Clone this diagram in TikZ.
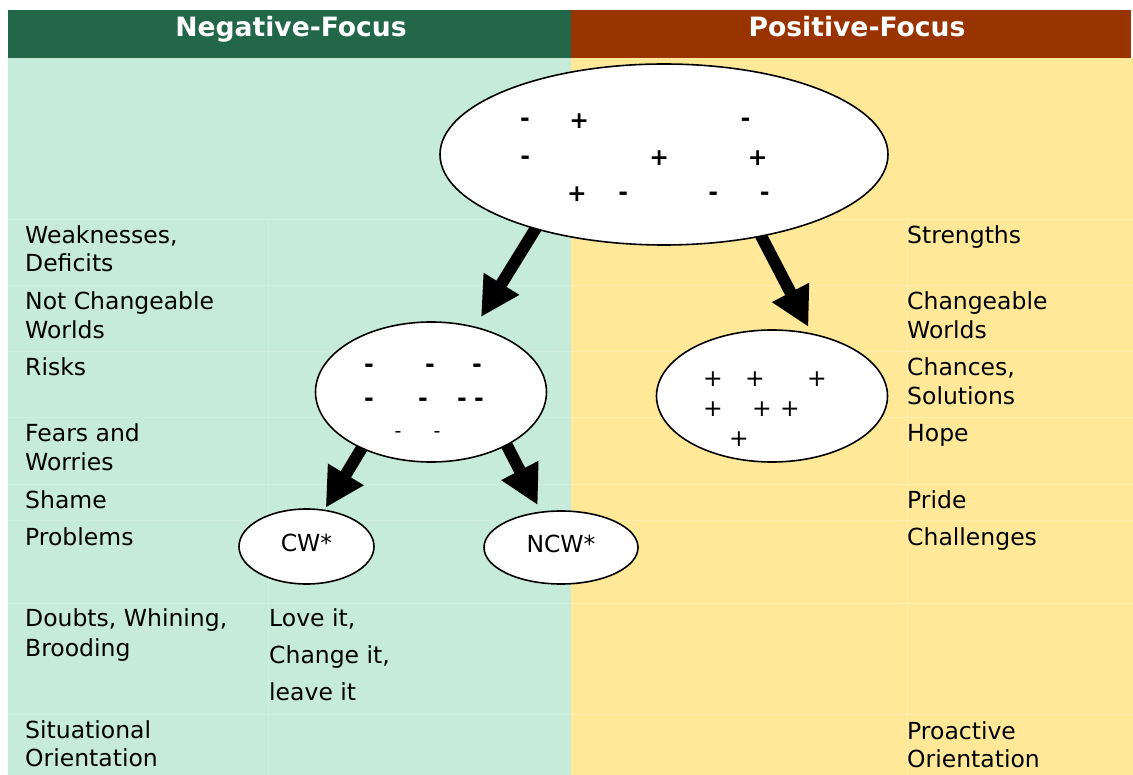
\documentclass[tikz,border=0pt]{standalone}
\usepackage{fontspec}
\setmainfont{DejaVu Sans}
\usetikzlibrary{arrows.meta,shapes.geometric}
\definecolor{negdark}{HTML}{236749}
\definecolor{posdark}{HTML}{993300}
\definecolor{neglight}{HTML}{C6EBDA}
\definecolor{poslight}{HTML}{FFE999}
\pgfdeclarelayer{back}
\pgfsetlayers{back,main}

\begin{document}
\begin{tikzpicture}[x=1pt,y=-1pt,
  celltxt/.style={anchor=base west, inner sep=0pt, font=\fontsize{23.5}{28}\selectfont},
  hdrtext/.style={anchor=base, text=white, inner sep=0pt, font=\bfseries\fontsize{26.6}{30}\selectfont},
  bubble/.style={ellipse, draw, fill=white, line width=1.6pt, inner sep=0pt, outer sep=0pt},
  signb/.style={anchor=base, inner sep=0pt, font=\bfseries\fontsize{23.5}{28}\selectfont},
  signr/.style={anchor=base, inner sep=0pt, font=\fontsize{23.5}{28}\selectfont},
  signs/.style={anchor=base, inner sep=0pt, font=\fontsize{19}{22}\selectfont},
  bigarrow/.style={line width=12pt, -{Triangle[length=39pt,width=39pt]}, shorten <=-6pt},
  gridln/.style={draw=white, opacity=0.2, line width=0.8pt}]

\useasboundingbox (0,0) rectangle (1133,775);

% ---------- ellipses ----------
\node[bubble, minimum width=448pt, minimum height=181pt] (big) at (664,154.5) {};
\node[bubble, minimum width=231pt, minimum height=140pt] (left) at (431,392) {};
\node[bubble, minimum width=231pt, minimum height=132pt] (right) at (772,396) {};
\node[bubble, minimum width=135pt, minimum height=75pt, text depth=7pt,
      font=\fontsize{23.5}{28}\selectfont] (cw) at (306.5,546.5) {CW*};
\node[bubble, minimum width=154pt, minimum height=73pt, text depth=7pt,
      font=\fontsize{23.5}{28}\selectfont] (ncw) at (561,547.5) {NCW*};

% ---------- signs in the mixed ellipse ----------
\foreach \x/\y [count=\i] in {525/120, 745.6/120, 525.3/157.7, 623.3/193.3, 713.3/193.3, 764.7/193.3}
  \node[signb] (bm\i) at (\x,\y+7) {-};
\foreach \x/\y [count=\i] in {579.3/120, 659.3/157.7, 757.7/157.7, 577/193.3}
  \node[signb] (bp\i) at (\x,\y+8.2) {+};

% ---------- signs in the negative ellipse ----------
\foreach \x/\y [count=\i] in {369/366, 430/366, 477/366, 369/400, 423/400, 462/400, 479/400}
  \node[signb] (lm\i) at (\x,\y+7) {-};
\foreach \x/\y [count=\i] in {398/432.7, 437/432.7}
  \node[signs] (ls\i) at (\x,\y+5.2) {-};

% ---------- signs in the positive ellipse ----------
\foreach \x/\y [count=\i] in {713/378, 755/378, 817/378, 713/408, 762/408, 790/408, 739/438}
  \node[signr] (rp\i) at (\x,\y+8.2) {+};

% ---------- headers ----------
\node[hdrtext] (neghead) at (291,37) {Negative-Focus};
\node[hdrtext] (poshead) at (857,37) {Positive-Focus};

% ---------- left column ----------
\node[celltxt] (n1a) at (25,243.5) {Weaknesses,};
\node[celltxt] (n1b) at (25,272) {Deficits};
\node[celltxt] (n2a) at (25,310) {Not Changeable};
\node[celltxt] (n2b) at (25,338.5) {Worlds};
\node[celltxt] (n3a) at (25,375.7) {Risks};
\node[celltxt] (n4a) at (25,441.7) {Fears and};
\node[celltxt] (n4b) at (25,470.7) {Worries};
\node[celltxt] (n5a) at (25,508.5) {Shame};
\node[celltxt] (n6a) at (25,545.5) {Problems};
\node[celltxt] (n7a) at (25,626.7) {Doubts, Whining,};
\node[celltxt] (n7b) at (25,656.7) {Brooding};
\node[celltxt] (n8a) at (25,738.3) {Situational};
\node[celltxt] (n8b) at (25,766.7) {Orientation};

% ---------- middle column ----------
\node[celltxt] (m1) at (269,626.7) {Love it,};
\node[celltxt] (m2) at (269,663.3) {Change it,};
\node[celltxt] (m3) at (269,700) {leave it};

% ---------- right column ----------
\node[celltxt] (p1a) at (907,243.5) {Strengths};
\node[celltxt] (p2a) at (907,310) {Changeable};
\node[celltxt] (p2b) at (907,338.5) {Worlds};
\node[celltxt] (p3a) at (907,375.7) {Chances,};
\node[celltxt] (p3b) at (907,404.5) {Solutions};
\node[celltxt] (p4a) at (907,441.7) {Hope};
\node[celltxt] (p5a) at (907,508.5) {Pride};
\node[celltxt] (p6a) at (907,545.5) {Challenges};
\node[celltxt] (p8a) at (907,739) {Proactive};
\node[celltxt] (p8b) at (907,767.3) {Orientation};

% ---------- background, table rules and arrows ----------
\begin{pgfonlayer}{back}
  \fill[negdark] (8,10) rectangle (571,58);
  \fill[posdark] (571,10) rectangle (1131,58);
  \fill[neglight] (8,58) rectangle (571,775);
  \fill[poslight] (571,58) rectangle (1133,775);
  \foreach \y in {219,285,351,417,484,520,603,714}
    \draw[gridln] (8,\y) -- (1133,\y);
  \draw[gridln] (268,219) -- (268,775);
  \draw[gridln] (907,219) -- (907,775);

  \draw[bigarrow, shorten >=12pt] (big.210.4) -- (left.56.8);
  \draw[bigarrow, shorten >=8pt]  (big.320.9) -- (right.57.6);
  \draw[bigarrow, shorten >=3pt]  (left.219.4) -- (cw.64.6);
  \draw[bigarrow, shorten >=8pt]  (left.325.8) -- (ncw.119);
\end{pgfonlayer}
\end{tikzpicture}
\end{document}
